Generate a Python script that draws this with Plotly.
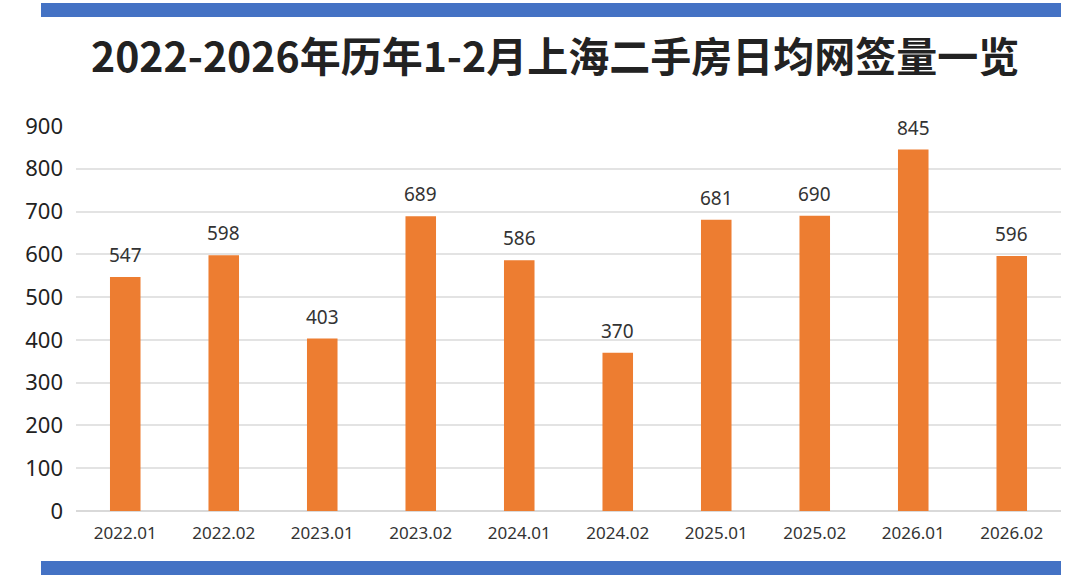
import plotly.graph_objects as go

# 上海二手房 1-2 月日均网签量
months = ["2022.01", "2022.02", "2023.01", "2023.02", "2024.01",
          "2024.02", "2025.01", "2025.02", "2026.01", "2026.02"]
daily_signings = [547, 598, 403, 689, 586, 370, 681, 690, 845, 596]
y_ticks = [0, 100, 200, 300, 400, 500, 600, 700, 800, 900]

TITLE = "2022-2026年历年1-2月上海二手房日均网签量一览"
BAR_COLOR = "#ED7D31"
BAND_COLOR = "#4472C4"
GRID_COLOR = "#E3E3E3"
TEXT_FONT = "Noto Sans, Open Sans, sans-serif"

fig = go.Figure(
    go.Bar(
        x=months,
        y=daily_signings,
        width=0.31,
        marker=dict(color=BAR_COLOR, line=dict(width=0)),
        hoverinfo="x+y",
    )
)

# value labels, lifted a little above each bar.
# on a category axis a numeric-looking string like "2022.01" is read as an
# index, so place annotations by category position instead
for i, v in enumerate(daily_signings):
    fig.add_annotation(
        x=i, y=v, text=str(v), showarrow=False,
        yanchor="bottom", yshift=7,
        font=dict(size=19, color="#333333", family=TEXT_FONT),
    )

# blue bands top and bottom (paper coords are relative to the plot area)
for y0, y1 in ((494 / 385, 508 / 385), (-64 / 385, -50 / 385)):
    fig.add_shape(
        type="rect", xref="paper", yref="paper",
        x0=-35 / 985, x1=1.0, y0=y0, y1=y1,
        fillcolor=BAND_COLOR, line=dict(width=0), layer="below",
    )

fig.update_layout(
    width=1080,
    height=578,
    margin=dict(l=76, r=19, t=126, b=67),
    paper_bgcolor="white",
    plot_bgcolor="white",
    showlegend=False,
    title=dict(
        text=f"<b>{TITLE}</b>",
        x=0.514,
        xanchor="center",
        y=1 - 58 / 578,
        yanchor="middle",
        font=dict(size=41, color="#222222", family="Noto Sans CJK SC"),
    ),
    xaxis=dict(
        type="category",  # "2022.01" etc. would otherwise be read as numbers
        range=[-0.5, len(months) - 0.5],
        showgrid=False,
        showline=False,
        ticks="",
        ticklabelstandoff=10,
        tickfont=dict(size=17, color="#333333", family=TEXT_FONT),
    ),
    yaxis=dict(
        range=[0, 900],
        tickvals=y_ticks,
        showgrid=True,
        gridcolor=GRID_COLOR,
        gridwidth=1.5,
        zeroline=True,
        zerolinecolor="#D9D9D9",
        zerolinewidth=1.5,
        ticks="",
        ticklabelstandoff=12,
        tickfont=dict(size=22, color="#222222", family=TEXT_FONT),
    ),
)

# drop the default 8px body margin so the figure sits at the window origin
fig.write_html(
    "out.html",
    config={"displayModeBar": False},
    post_script="document.body.style.margin='0';",
)
